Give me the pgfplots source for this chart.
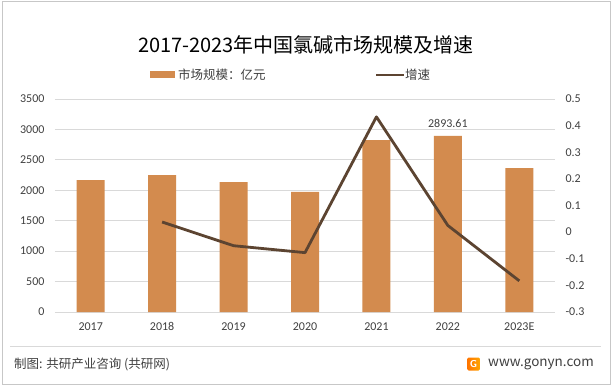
\documentclass[border=0pt]{standalone}
\usepackage{fontspec}
\setmainfont{Carlito}
\newfontfamily\cjk{Noto Sans CJK SC}
\usepackage{pgfplots}
\pgfplotsset{compat=1.18}
\definecolor{barc}{HTML}{D38B4E}
\definecolor{linec}{HTML}{5C4431}
\definecolor{txt}{HTML}{404040}
\definecolor{gridc}{HTML}{D9D9D9}
\begin{document}
\begin{tikzpicture}
\path[fill=white] (0pt,0pt) rectangle (612pt,386pt);
\draw[draw=gridc!80!gray, line width=1pt] (2pt,2pt) rectangle (610pt,384pt);
\node[font=\cjk\fontsize{20}{24}\selectfont, text=black] at (306pt,341pt) {2017-2023年中国氯碱市场规模及增速};
% legend
\fill[barc] (150pt,307.5pt) rectangle (175pt,314.5pt);
\node[anchor=west, font=\cjk\fontsize{12.5}{15}\selectfont, text=txt, inner sep=1pt] at (177pt,311pt) {市场规模：亿元};
\draw[linec, line width=2.8pt] (376pt,311pt) -- (404pt,311pt);
\node[anchor=west, font=\cjk\fontsize{12.5}{15}\selectfont, text=txt, inner sep=1pt] at (404pt,311pt) {增速};
\begin{axis}[
  at={(55pt,74pt)}, anchor=south west, scale only axis,
  width=500pt, height=213pt,
  xmin=-0.5, xmax=6.5, ymin=0, ymax=3500,
  ytick={0,500,1000,1500,2000,2500,3000,3500},
  xtick={0,1,2,3,4,5,6},
  xticklabels={2017,2018,2019,2020,2021,2022,2023E},
  ymajorgrids, major grid style={gridc, line width=0.8pt},
  axis line style={draw=none},
  major tick length=0pt,
  tick label style={font=\fontsize{12}{14}\selectfont, text=txt},
  yticklabel style={xshift=-7pt},
  xticklabel style={yshift=-7pt},
  /pgf/number format/assume math mode=true,
  /pgf/number format/1000 sep={},
  clip=false,
]
\addplot[ybar, bar width=28pt, fill=barc, draw=none] coordinates {
(0,2168) (1,2250) (2,2135) (3,1972) (4,2824) (5,2893.61) (6,2365)};
\node[anchor=south, font=\fontsize{12}{14}\selectfont, text=txt] at (axis cs:5,2893.61) [yshift=5pt] {2893.61};
\end{axis}
\begin{axis}[
  at={(55pt,74pt)}, anchor=south west, scale only axis,
  width=500pt, height=213pt,
  xmin=-0.5, xmax=6.5, ymin=-0.3, ymax=0.5,
  ytick={-0.3,-0.2,-0.1,0,0.1,0.2,0.3,0.4,0.5},
  axis y line*=right, hide x axis,
  axis line style={draw=none},
  major tick length=0pt,
  tick label style={font=\fontsize{12}{14}\selectfont, text=txt},
  yticklabel style={xshift=7pt},
  /pgf/number format/assume math mode=true,
  /pgf/number format/fixed,
  /pgf/number format/precision=1,
  clip=false,
]
\addplot[linec, line width=2.8pt, no markers, line join=round] coordinates {
(1,0.038) (2,-0.051) (3,-0.077) (4,0.433) (5,0.025) (6,-0.183)};
\end{axis}
% footer
\draw[gridc, line width=0.8pt] (10pt,40pt) -- (601pt,40pt);
\node[anchor=west, font=\cjk\fontsize{12.5}{15}\selectfont, text=txt, inner sep=1pt] at (13pt,22pt) {制图: 共研产业咨询 (共研网)};
\shade[left color=orange!90!red, right color=orange!70!yellow, rounded corners=1.5pt] (467pt,15.5pt) rectangle (480pt,28.5pt);
\node[font=\sffamily\bfseries\fontsize{10}{10}\selectfont, text=white, inner sep=0pt] at (473.5pt,22pt) {G};
\node[anchor=west, font=\cjk\fontsize{13.5}{16}\selectfont, text=txt, inner sep=1pt] at (487pt,22pt) {www.gonyn.com};
\end{tikzpicture}
\end{document}
